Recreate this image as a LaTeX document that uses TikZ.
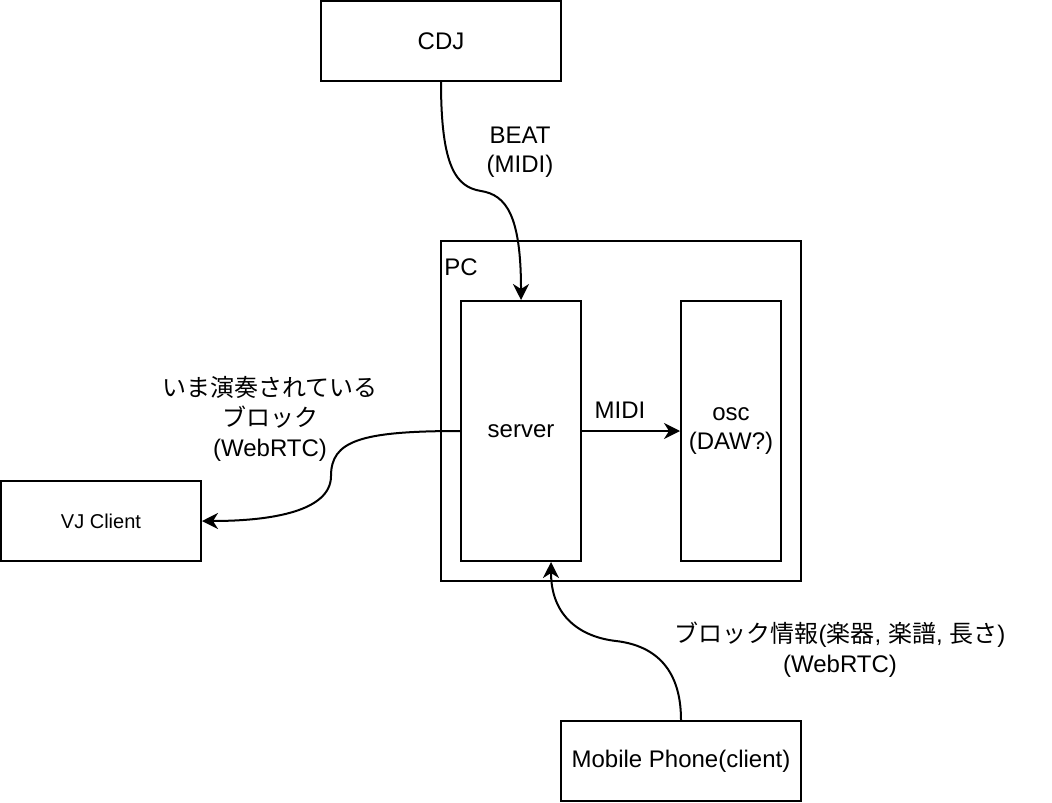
\documentclass[tikz,border=0pt]{standalone}
\usepackage{fontspec}
\setmainfont{Liberation Sans}
\newfontfamily\jpfont{Noto Sans CJK JP}
\usetikzlibrary{arrows.meta,positioning}

\begin{document}
\begin{tikzpicture}[x=0.5pt,y=-0.5pt,font=\fontsize{12}{14.5}\selectfont,
  box/.style={draw,line width=1pt,inner sep=0pt,align=center},
  lbl/.style={align=center,inner sep=0pt},
  flow/.style={-{Stealth[length=8pt,width=8pt,inset=2.5pt]},line width=1pt}]
  \useasboundingbox (0,0) rectangle (1052,802);
  \node[box,minimum width=180pt,minimum height=170pt] (pc) at (621,411) {};
  \node[lbl,anchor=west] (pctitle) at ([xshift=2pt,yshift=-13.5pt]pc.north west) {PC};

  \node[box,minimum width=120pt,minimum height=40pt] (cdj) at (441,41) {CDJ};
  \node[box,minimum width=60pt,minimum height=130pt] (server) at (521,431) {server};
  \node[box,minimum width=50pt,minimum height=130pt] (osc) at (731,431) {osc\\(DAW?)};
  \node[box,minimum width=100pt,minimum height=40pt,font=\fontsize{10}{12}\selectfont] (vj) at (101,521) {VJ Client};
  \node[box,minimum width=120pt,minimum height=40pt] (phone) at (681,761) {Mobile Phone(client)};

  % bends of the curved links
  \coordinate (beatbend) at (481,191);
  \coordinate (vjbend) at (331,476);
  \coordinate (phonebend) at (616,641);

  \draw[flow] (cdj.south) .. controls +(0,85) and +(-25,-4) .. (beatbend)
    .. controls +(25,4) and +(0,-85) .. (server.north);
  \draw[flow] (server.east) -- (osc.west);
  \draw[flow] (server.west) .. controls +(-100,0) and +(0,-35) .. (vjbend)
    .. controls +(0,35) and +(70,0) .. (vj.east);
  \draw[flow] (phone.north) .. controls +(0,-55) and +(35,4) .. (phonebend)
    .. controls +(-35,-4) and +(0,55) .. ([xshift=15pt]server.south);

  \node[lbl] (beatlbl) at (520,152) {BEAT\\(MIDI)};
  \node[lbl] (midilbl) at (620,410) {MIDI};
  \node[lbl,font=\fontsize{12}{15}\selectfont] (vjlbl) at (270,419) {{\jpfont いま演奏されている}\\{\jpfont ブロック}\\(WebRTC)};
  \node[lbl,font=\fontsize{12}{15}\selectfont] (phonelbl) at (840,650) {{\jpfont ブロック情報}({\jpfont 楽器}, {\jpfont 楽譜}, {\jpfont 長さ})\\(WebRTC)};
\end{tikzpicture}
\end{document}
